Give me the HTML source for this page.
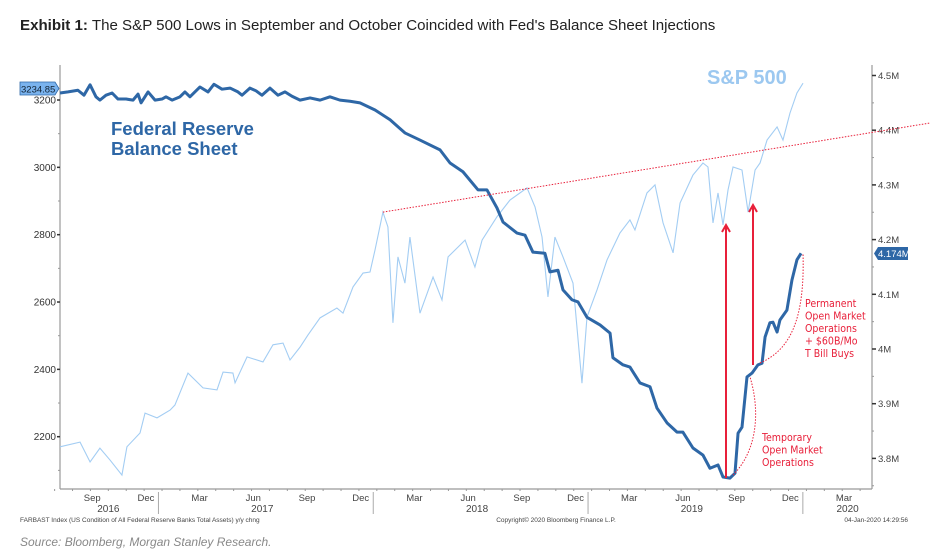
<!DOCTYPE html>
<html><head><meta charset="utf-8">
<style>
body{margin:0;background:#fff;width:930px;height:549px;overflow:hidden;font-family:"Liberation Sans",sans-serif}
svg{position:absolute;left:0;top:0}
</style></head>
<body>
<svg id="chart" width="930" height="549">
<text x="20" y="30" font-size="15.1" fill="#222"><tspan font-weight="bold">Exhibit 1:</tspan> The S&amp;P 500 Lows in September and October Coincided with Fed's Balance Sheet Injections</text>
<g id="axes"></g>
<g id="series"></g>
<g id="annot"></g>
<text x="20" y="546" font-size="12" font-style="italic" fill="#888">Source: Bloomberg, Morgan Stanley Research.</text>
</svg>
<script>
// months since mid-Jul 2016
const fedMonths=[0,0.45,1.0,1.34,1.68,2.01,2.23,2.57,2.91,3.24,3.69,4.08,4.36,4.53,4.92,5.31,5.70,5.92,6.26,6.70,6.98,7.26,7.82,8.27,8.60,9.05,9.50,9.94,10.17,10.61,10.95,11.28,11.73,12.18,12.57,12.96,13.41,13.97,14.53,15.08,15.64,16.20,16.76,17.60,18.44,19.27,20.11,21.23,21.79,22.51,23.35,23.85,24.41,24.75,25.53,25.98,26.42,27.09,27.37,27.82,28.10,28.60,28.94,29.44,30.17,30.73,30.89,31.45,31.84,32.40,32.96,33.35,33.91,34.47,34.80,35.36,35.92,36.31,36.76,37.04,37.43,37.71,37.88,38.10,38.38,38.66,38.99,39.22,39.39,39.66,39.83,40.06,40.22,40.61,40.89,41.17,41.40];
const fedValues=[4.468,4.470,4.473,4.464,4.483,4.461,4.455,4.464,4.468,4.457,4.457,4.455,4.466,4.450,4.470,4.455,4.457,4.461,4.455,4.461,4.470,4.461,4.479,4.470,4.484,4.475,4.477,4.470,4.464,4.477,4.472,4.464,4.477,4.464,4.470,4.462,4.455,4.459,4.455,4.461,4.455,4.453,4.450,4.437,4.419,4.395,4.382,4.364,4.340,4.324,4.291,4.291,4.258,4.232,4.212,4.208,4.177,4.175,4.141,4.144,4.108,4.090,4.086,4.058,4.044,4.029,3.984,3.971,3.967,3.938,3.931,3.892,3.865,3.848,3.848,3.819,3.806,3.782,3.788,3.766,3.764,3.773,3.846,3.857,3.949,3.956,3.971,3.974,4.022,4.048,4.049,4.031,4.053,4.071,4.126,4.163,4.175];
const spxMonths=[0,1.12,1.68,2.23,2.79,3.46,3.74,4.47,4.75,5.42,6.15,6.42,7.15,7.99,8.77,9.11,9.66,9.78,10.45,11.34,11.90,12.46,12.85,13.41,13.85,14.53,15.47,15.81,16.37,16.93,17.32,17.60,18.04,18.32,18.60,18.88,19.27,19.55,20.11,20.84,21.34,21.68,22.63,23.18,23.58,24.41,25.14,26.09,26.54,26.93,27.26,27.65,28.10,28.66,29.16,29.44,30.00,30.56,31.28,31.84,32.12,32.79,33.24,33.69,34.25,34.64,35.36,35.92,36.20,36.48,36.76,37.04,37.32,37.60,38.10,38.44,38.83,39.11,39.50,40.06,40.39,40.78,41.17,41.51];
const spxValues=[2170,2184,2125,2166,2131,2086,2170,2211,2270,2256,2279,2294,2389,2345,2339,2392,2389,2360,2437,2422,2473,2478,2428,2466,2502,2553,2582,2567,2645,2686,2689,2755,2867,2823,2538,2734,2656,2793,2567,2674,2606,2734,2784,2704,2784,2853,2903,2939,2882,2793,2615,2793,2734,2656,2359,2555,2636,2725,2805,2844,2814,2924,2948,2835,2746,2894,2977,3013,3001,2835,2924,2829,2933,3001,2992,2867,2992,3013,3081,3120,3081,3161,3221,3250];
const leftTicks=[3200,3000,2800,2600,2400,2200];
const rightTicks=[4.5,4.4,4.3,4.2,4.1,4.0,3.9,3.8];
const rightTickLabels=["4.5M","4.4M","4.3M","4.2M","4.1M","4M","3.9M","3.8M"];
const monthLabels=["Sep","Dec","Mar","Jun","Sep","Dec","Mar","Jun","Sep","Dec","Mar","Jun","Sep","Dec","Mar"];
const monthTicks=[1.8,4.8,7.8,10.8,13.8,16.8,19.8,22.8,25.8,28.8,31.8,34.8,37.8,40.8,43.8];
const yearLabels=["2016","2017","2018","2019","2020"];
const yearMonths=[2.7,11.3,23.3,35.3,44.0];
const yearBreaks=[5.5,17.5,29.5,41.5];

const X0=60,X1=872,YT=65,YB=489;
const xS=m=>X0+m*17.9;
const yL=v=>100+(3200-v)*0.3367;
const yR=v=>349-(v-4)*547;
const NS="http://www.w3.org/2000/svg";
function mk(tag,attrs,parent,txt){const e=document.createElementNS(NS,tag);for(const k in attrs)e.setAttribute(k,attrs[k]);if(txt!=null)e.textContent=txt;parent.appendChild(e);return e;}
const ax=document.getElementById('axes'),sr=document.getElementById('series'),an=document.getElementById('annot');

let e;
e=mk('line',{x1:X0,y1:YT,x2:X0,y2:YB,stroke:'#999','stroke-width':1.2},ax);


e=mk('line',{x1:X1,y1:YT,x2:X1,y2:YB,stroke:'#999','stroke-width':1.2},ax);


e=mk('line',{x1:X0,y1:YB,x2:X1,y2:YB,stroke:'#999','stroke-width':1.2},ax);



leftTicks.forEach(v=>{const y=yL(v);
 mk('line',{x1:X0-3,y1:y,x2:X0,y2:y,stroke:'#333','stroke-width':1.5},ax);
 mk('line',{x1:X0-2,y1:yL(v-100),x2:X0,y2:yL(v-100),stroke:'#999'},ax);
 e=mk('text',{x:X0-4,y:y+3.5,'font-size':10,'text-anchor':'end',fill:'#333'},ax,v);
 
 
});
rightTicks.forEach((v,i)=>{const y=yR(v);
 mk('line',{x1:X1,y1:y,x2:X1+4,y2:y,stroke:'#333','stroke-width':1.5},ax);
 mk('line',{x1:X1,y1:yR(v-0.05),x2:X1+2,y2:yR(v-0.05),stroke:'#999'},ax);
 e=mk('text',{x:X1+6,y:y+3.5,'font-size':9.5,fill:'#444'},ax,rightTickLabels[i]);
 
 
});
for(let m=0;m<=45;m++){mk('line',{x1:xS(m-0.3),y1:YB,x2:xS(m-0.3),y2:YB+2,stroke:'#999'},ax);}
monthTicks.forEach((m,i)=>{
 e=mk('text',{x:xS(m),y:501,'font-size':9.5,'text-anchor':'middle',fill:'#444'},ax,monthLabels[i]);
 
 
});
yearMonths.forEach((m,i)=>{
 e=mk('text',{x:xS(m),y:512,'font-size':10,'text-anchor':'middle',fill:'#444'},ax,yearLabels[i]);
 
 
});
yearBreaks.forEach(m=>mk('line',{x1:xS(m),y1:YB+3,x2:xS(m),y2:514,stroke:'#aaa'},ax));
e=mk('text',{x:20,y:522,'font-size':6.5,fill:'#444'},ax,'FARBAST Index (US Condition of All Federal Reserve Banks Total Assets) y/y chng');


e=mk('text',{x:556,y:522,'font-size':6.5,'text-anchor':'middle',fill:'#444'},ax,'Copyright\u00a9 2020 Bloomberg Finance L.P.');


e=mk('text',{x:908,y:522,'font-size':6.5,'text-anchor':'end',fill:'#444'},ax,'04-Jan-2020 14:29:56');



// series
e=mk('polyline',{points:spxMonths.map((m,i)=>xS(m)+','+yL(spxValues[i])).join(' '),fill:'none',stroke:'#a3cdf3','stroke-width':1.1},sr);


e=mk('polyline',{points:fedMonths.map((m,i)=>xS(m)+','+yR(fedValues[i])).join(' '),fill:'none',stroke:'#2e67a6','stroke-width':3,'stroke-linejoin':'round'},sr);



// annotations
const pk=spxValues.indexOf(2867);
e=mk('line',{x1:xS(spxMonths[pk]),y1:yL(spxValues[pk]),x2:930,y2:123,stroke:'#e8203a','stroke-width':1,'stroke-dasharray':'1.5,1.5'},an);


function arrow(x,y1,y2,name){
 e=mk('path',{d:`M${x},${y1}V${y2}M${x-4},${y2+7}L${x},${y2}L${x+4},${y2+7}`,fill:'none',stroke:'#e8203a','stroke-width':2},an);
 
 
}
arrow(726,478,225,'sept-arrow');
arrow(753,365,205,'oct-arrow');
e=mk('path',{d:'M733,475 C758,450 760,410 750,377',fill:'none',stroke:'#e8203a','stroke-width':1,'stroke-dasharray':'1.5,1.5'},an);


e=mk('path',{d:'M760,363 C790,350 805,320 803,253',fill:'none',stroke:'#e8203a','stroke-width':1,'stroke-dasharray':'1.5,1.5'},an);


function lines(x,y,arr,name){
 e=mk('text',{x:x,y:y,'font-size':10.5,fill:'#e8203a','font-family':'DejaVu Sans Condensed, Liberation Sans, sans-serif'},an);
 
 
 arr.forEach((t,i)=>mk('tspan',{x:x,dy:i?12.5:0},e,t));
}
lines(805,307,['Permanent','Open Market','Operations','+ $60B/Mo','T Bill Buys'],'permanent-label');
lines(762,441,['Temporary','Open Market','Operations'],'temporary-label');

e=mk('text',{x:707,y:84,'font-size':20,'font-weight':'bold',fill:'#9cc8f0'},an,'S&P 500');


e=mk('text',{x:111,y:135,'font-size':18.5,'font-weight':'bold',fill:'#2e67a6'},an);


mk('tspan',{x:111,dy:0},e,'Federal Reserve');
mk('tspan',{x:111,dy:20},e,'Balance Sheet');

e=mk('path',{d:'M20,82H55L59,88.5L55,95H20Z',fill:'#7ab3ee',stroke:'#2e67a6','stroke-width':0.8},an);


mk('text',{x:21,y:92.5,'font-size':9.5,fill:'#123'},an,'3234.85');
e=mk('path',{d:'M878,247H908V260H878L874,253.5Z',fill:'#2e67a6'},an);


mk('text',{x:878,y:257,'font-size':9.5,fill:'#fff'},an,'4.174M');
</script>
</body></html>
